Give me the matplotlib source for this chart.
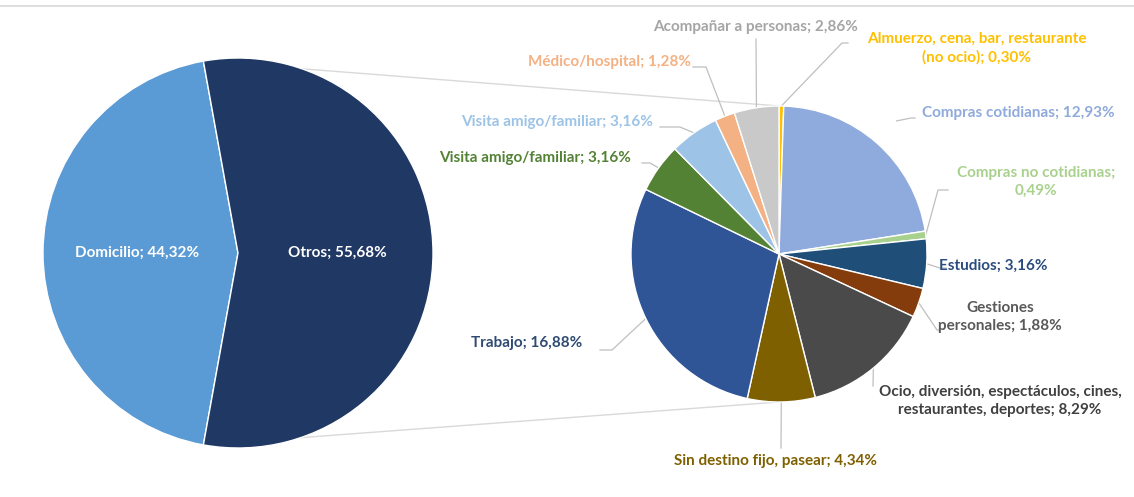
import numpy as np
import matplotlib.pyplot as plt

plt.rcParams['font.family'] = ['Lato', 'DejaVu Sans']

W, H = 1134, 497

# Main pie
main_labels = ['Domicilio', 'Otros']
main_values = [44.32, 55.68]
main_colors = ['#5B9BD5', '#1F3864']

# Breakdown of "Otros" (clockwise from 12 o'clock)
sub_labels = ['Almuerzo, cena, bar, restaurante\n(no ocio)', 'Compras cotidianas',
              'Compras no cotidianas;\n', 'Estudios', 'Gestiones\npersonales',
              'Ocio, diversión, espectáculos, cines,\nrestaurantes, deportes',
              'Sin destino fijo, pasear', 'Trabajo', 'Visita amigo/familiar',
              'Visita amigo/familiar', 'Médico/hospital', 'Acompañar a personas']
sub_values = [0.30, 12.93, 0.49, 3.16, 1.88, 8.29, 4.34, 16.88, 3.16, 3.16, 1.28, 2.86]
sub_colors = ['#FFC000', '#8FAADC', '#A9D18E', '#1F4E79', '#843C0C', '#4A4A4A',
              '#7F6000', '#2F5597', '#548235', '#9DC3E6', '#F4B183', '#C9C9C9']
text_colors = ['#FFC000', '#8FAADC', '#A9D18E', '#2B4C7E', '#595959', '#404040',
               '#7F6000', '#2F4A73', '#548235', '#9DC3E6', '#F4B183', '#A5A5A5']

FS = 11


def fmt(v):
    return f'{v:.2f}'.replace('.', ',') + '%'


def px(x, y):
    # pixel coords (y down) -> axes data coords (y up)
    return x, H - y


fig = plt.figure(figsize=(W / 100, H / 100), dpi=100)
ax = fig.add_axes([0, 0, 1, 1])

c1, r1 = px(238, 253), 195
c2, r2 = px(779, 254), 148

start1 = 180 - main_values[0] / 100 * 180
ax.pie(main_values, colors=main_colors, startangle=start1, center=c1, radius=r1,
       wedgeprops=dict(edgecolor='white', linewidth=1))
ax.pie(sub_values, colors=sub_colors, startangle=90, counterclock=False, center=c2,
       radius=r2, wedgeprops=dict(edgecolor='white', linewidth=1))

# connector lines between the two pies
a_top = np.deg2rad(start1)
a_bot = np.deg2rad(start1 + main_values[0] / 100 * 360)
for a, b in [(a_top, np.pi / 2), (a_bot, -np.pi / 2)]:
    ax.plot([c1[0] + r1 * np.cos(a), c2[0] + r2 * np.cos(b)],
            [c1[1] + r1 * np.sin(a), c2[1] + r2 * np.sin(b)],
            color='#D9D9D9', lw=1, zorder=0)

# main labels
ax.text(*px(137, 253), f'{main_labels[0]}; {fmt(main_values[0])}', color='white',
        fontsize=FS, fontweight='bold', ha='center', va='center')
ax.text(*px(337, 253), f'{main_labels[1]}; {fmt(main_values[1])}', color='white',
        fontsize=FS, fontweight='bold', ha='center', va='center')

# sub label positions (pixel) and leader elbows
label_pos = [(977, 48), (1018, 113), (1036, 182), (993, 266), (1000, 317),
             (1000, 401), (775, 461), (527, 343), (535, 158), (557, 122),
             (610, 62), (756, 27)]
elbows = [[(842, 43), (848, 43)], [(911, 118), (915, 118)], [(938, 190), (948, 190)],
          [(940, 268), (946, 268)], [(937, 330), (940, 330)], [(873, 386)],
          [(781, 448)], [(612, 350), (600, 350)], [(650, 163), (642, 163)],
          [(680, 127), (660, 127)], [(706, 67), (693, 67)], [(756, 39)]]
lead_r = [1.0, 1.2, 1.0, 1.0, 1.0, 1.0, 1.0, 1.0, 1.0, 1.0, 1.0, 1.0]

total = sum(sub_values)
cum = np.cumsum([0] + sub_values)
for i, v in enumerate(sub_values):
    mid = 90 - (cum[i] + v / 2) / total * 360
    a = np.deg2rad(mid)
    sx = c2[0] + r2 * lead_r[i] * np.cos(a)
    sy = c2[1] + r2 * lead_r[i] * np.sin(a)
    pts = [(sx, sy)] + [px(*p) for p in elbows[i]]
    ax.plot([p[0] for p in pts], [p[1] for p in pts], color='#BFBFBF', lw=0.9, zorder=0)
    name = sub_labels[i]
    if name.endswith('\n'):
        txt = name + fmt(v)
    else:
        txt = f'{name}; {fmt(v)}'
    ax.text(*px(*label_pos[i]), txt, color=text_colors[i], fontsize=FS,
            fontweight='bold', ha='center', va='center', linespacing=1.35)

# top border of chart area
ax.plot([0, W], [H - 6, H - 6], color='#D9D9D9', lw=1.2)

ax.set_xlim(0, W)
ax.set_ylim(0, H)
ax.axis('off')

fig.savefig('out.png', dpi=100)
